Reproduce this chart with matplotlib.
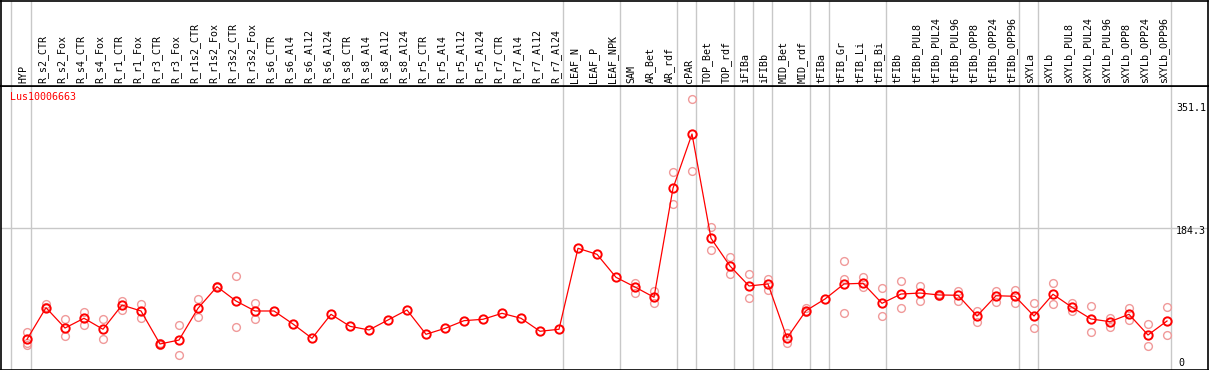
import matplotlib
matplotlib.use("Agg")
import matplotlib.pyplot as plt

# sample names (header)
samples = [
    "HYP",
    "R_s2_CTR", "R_s2_Fox", "R_s4_CTR", "R_s4_Fox", "R_r1_CTR", "R_r1_Fox",
    "R_r3_CTR", "R_r3_Fox", "R_r1s2_CTR", "R_r1s2_Fox", "R_r3s2_CTR", "R_r3s2_Fox",
    "R_s6_CTR", "R_s6_Al4", "R_s6_Al12", "R_s6_Al24",
    "R_s8_CTR", "R_s8_Al4", "R_s8_Al12", "R_s8_Al24",
    "R_r5_CTR", "R_r5_Al4", "R_r5_Al12", "R_r5_Al24",
    "R_r7_CTR", "R_r7_Al4", "R_r7_Al12", "R_r7_Al24",
    "LEAF_N", "LEAF_P", "LEAF_NPK",
    "SAM", "AR_Bet", "AR_rdf", "cPAR", "TOP_Bet", "TOP_rdf", "iFIBa", "iFIBb",
    "MID_Bet", "MID_rdf", "tFIBa", "tFIB_Gr", "tFIB_Li", "tFIB_Bi",
    "tFIBb", "tFIBb_PUL8", "tFIBb_PUL24", "tFIBb_PUL96",
    "tFIBb_OPP8", "tFIBb_OPP24", "tFIBb_OPP96",
    "sXYLa", "sXYLb", "sXYLb_PUL8", "sXYLb_PUL24", "sXYLb_PUL96",
    "sXYLb_OPP8", "sXYLb_OPP24", "sXYLb_OPP96",
]

# mean expression per sample
means = [
    40.9,
    81.8, 55.5, 68.1, 53.9, 85.2, 77.5, 34.9, 40.0, 81.0, 108.9, 90.4, 77.5,
    77.5, 60.7, 42.2, 73.2,
    57.7, 53.0, 65.9, 78.8,
    47.4, 55.1, 65.0, 66.8,
    74.5, 68.1, 51.3, 53.9,
    158.5, 150.7, 121.0,
    108.5, 95.2, 236.0, 306.1, 171.4, 135.6, 109.8, 112.4,
    42.6, 77.9, 93.0, 112.4, 113.3, 87.4,
    99.4, 100.7, 98.2, 97.8, 71.0, 97.2, 96.5,
    71.0, 99.1, 82.3, 67.2, 63.7, 73.2, 46.5, 64.6,
]

# individual replicates per sample
reps = [
    [50.0, 36.5, 33.6],
    [86.5, 83.0], [66.8, 45.2], [76.2, 59.8], [66.8, 40.9], [90.8, 78.8], [86.5, 68.4],
    [36.2, 33.6], [59.0, 20.3], [92.6, 70.1], [109.5, 108.3], [122.3, 56.4], [87.8, 66.8],
    [], [], [], [],
    [], [], [], [],
    [], [], [], [],
    [], [], [], [],
    [], [], [],
    [113.3, 100.3], [103.3, 87.4], [256.6, 215.3], [351.1, 258.3], [186.0, 155.9],
    [147.2, 125.3], [125.3, 93.9], [118.4, 104.6],
    [48.7, 35.8], [81.0, 75.8], [], [142.1, 118.8, 74.5], [121.0, 108.9], [106.8, 70.6],
    [116.2, 81.0], [109.8, 90.0], [100.0, 97.0], [103.7, 90.8], [77.9, 63.7], [103.7, 89.5], [104.6, 88.2],
    [87.4, 55.1], [113.3, 86.5], [88.2, 77.5], [83.9, 50.4], [68.4, 57.2], [81.4, 65.9], [60.7, 31.9], [82.3, 46.1],
]

# samples after which a group separator is drawn
group_ends = [-1, 0, 28, 31, 34, 35, 37, 38, 39, 41, 42, 45, 52, 53, 60]

y_ticks = [0, 184.3, 351.1]
gene = "Lus10006663"

W, H = 1209, 370
fig = plt.figure(figsize=(W / 100, H / 100), dpi=100)
mono = "DejaVu Sans Mono"
red = "#ff0000"
pink = "#f09a9a"
grey = "#c8c8c8"

# pixel geometry
px0, step = 27, 19
xlim = ((0.5 - px0) / step, (1208 - px0) / step)
ax = fig.add_axes([0.5 / W, 0.5 / H, 1207.5 / W, 284 / H])
axh = fig.add_axes([0.5 / W, 284.5 / H, 1207.5 / W, 85 / H], sharex=ax)

# y scale: 0 sits just below the frame
ppu = 0.7743
ax.set_ylim((371 - 369.5) / ppu, (371 - 85.5) / ppu)
ax.set_xlim(*xlim)
axh.set_ylim(0, 1)

for a in (ax, axh):
    a.set_xticks([])
    a.set_yticks([])
    for s in a.spines.values():
        s.set_color("black")
        s.set_linewidth(1.2)

sep = [g + 3.5 / step for g in group_ends]
for xv in sep:
    ax.axvline(xv, color=grey, lw=1, zorder=0)
    axh.axvline(xv, color=grey, lw=1, zorder=0)
ax.axhline(y_ticks[1], color=grey, lw=1, zorder=0)

xs = list(range(len(samples)))
rx, ry = [], []
for i, r in enumerate(reps):
    for v in r:
        rx.append(i)
        ry.append(v)
ax.plot(rx, ry, "o", ms=5.6, mfc="none", mec=pink, mew=1.0, zorder=2)
ax.plot(xs, means, "-", color=red, lw=0.9, zorder=3)
ax.plot(xs, means, "o", ms=6, mfc="none", mec=red, mew=1.4, zorder=4)

for i, name in enumerate(samples):
    axh.text(i - 3.5 / step, 0.03, name, rotation=90, ha="center", va="bottom",
             family=mono, fontsize=7.2)

# value labels at the right edge; "0" sits left-aligned under the others
offs = {0: 5.8, 184.3: -2.0, 351.1: -6.5}
for v in y_ticks:
    if v == 0:
        ax.annotate("0", xy=((1178 - 0.5) / 1207.5, v), xycoords=ax.get_yaxis_transform(),
                    xytext=(0, offs[v]), textcoords="offset points",
                    ha="left", va="center", family=mono, fontsize=7.2)
    else:
        ax.annotate(f"{v:g}", xy=(1, v), xycoords=ax.get_yaxis_transform(),
                    xytext=(-1.5, offs[v]), textcoords="offset points",
                    ha="right", va="center", family=mono, fontsize=7.2)

ax.text(0.0075, 0.958, gene, transform=ax.transAxes, color=red,
        family=mono, fontsize=7.2, va="center", ha="left")

fig.savefig("out.png", dpi=100)
